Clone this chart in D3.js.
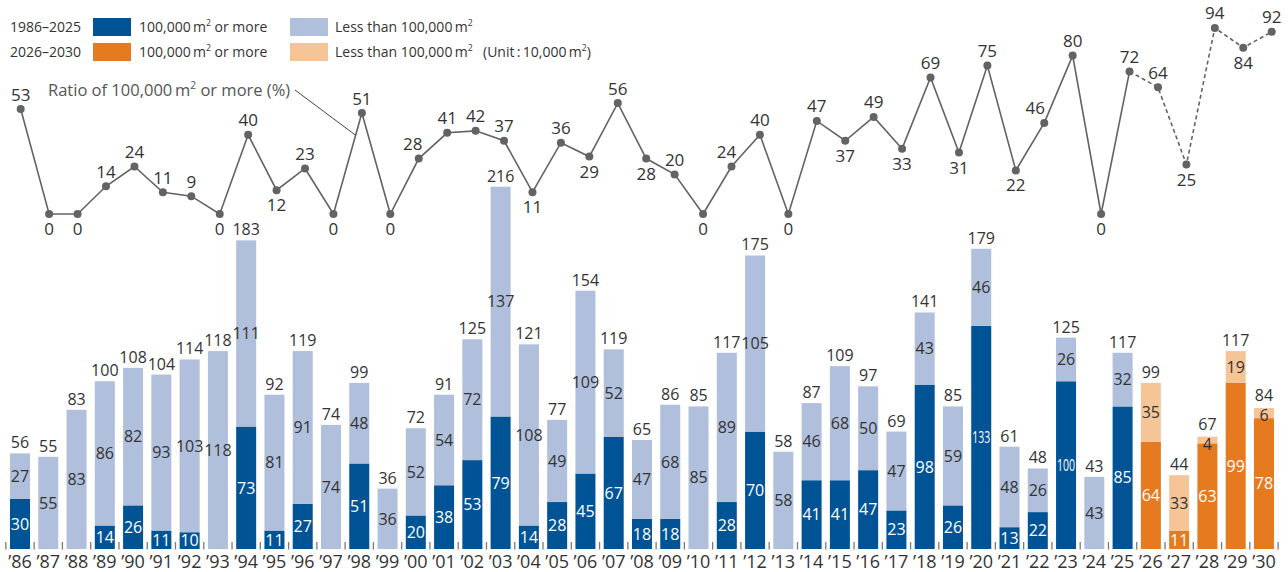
<!DOCTYPE html>
<html>
<head>
<meta charset="utf-8">
<script src="https://cdn.jsdelivr.net/npm/d3@7"></script>
<style>
  body { margin: 0; background: #fff; }
  svg { display: block; }
  text { font-family: "Open Sans", "Noto Sans", sans-serif; }
</style>
</head>
<body>
<svg id="chart" width="1288" height="572"></svg>
<script>
// Office floor space supplied per year (unit: 10,000 m²)
const yearLabels = ["'86","'87","'88","'89","'90","'91","'92","'93","'94","'95",
  "'96","'97","'98","'99","'00","'01","'02","'03","'04","'05",
  "'06","'07","'08","'09","'10","'11","'12","'13","'14","'15",
  "'16","'17","'18","'19","'20","'21","'22","'23","'24","'25",
  "'26","'27","'28","'29","'30"];

// Buildings of 100,000 m² or more
const largeArea = [30,0,0,14,26,11,10,0,73,11,
  27,0,51,0,20,38,53,79,14,28,
  45,67,18,18,0,28,70,0,41,41,
  47,23,98,26,133,13,22,100,0,85,
  64,11,63,99,78];

// Buildings of less than 100,000 m²
const smallArea = [27,55,83,86,82,93,103,118,111,81,
  91,74,48,36,52,54,72,137,108,49,
  109,52,47,68,85,89,105,58,46,68,
  50,47,43,59,46,48,26,26,43,32,
  35,33,4,19,6];

// Yearly totals
const totalArea = [56,55,83,100,108,104,114,118,183,92,
  119,74,99,36,72,91,125,216,121,77,
  154,119,65,86,85,117,175,58,87,109,
  97,69,141,85,179,61,48,125,43,117,
  99,44,67,117,84];

// Share of 100,000 m² or more (%)
const largeRatio = [53,0,0,14,24,11,9,0,40,12,
  23,0,51,0,28,41,42,37,11,36,
  29,56,28,20,0,24,40,0,47,37,
  49,33,69,31,75,22,46,80,0,72,
  64,25,94,84,92];

// First forecast year ('26)
const forecastStart = "'26";

const colors = {
  largeActual: "#005496",
  smallActual: "#b0bfdb",
  largeForecast: "#e67a1f",
  smallForecast: "#f6c597",
  line: "#636363",
  text: "#333333"
};

const svg = d3.select("#chart");
const forecastIdx = yearLabels.indexOf(forecastStart);

const rows = yearLabels.map((y, i) => ({
  year: y, i,
  large: largeArea[i], small: smallArea[i], total: totalArea[i],
  ratio: largeRatio[i], forecast: i >= forecastIdx
}));

// ---- scales ----
const x = d3.scaleBand().domain(yearLabels).range([5.86, 1278.1])
  .paddingInner(0.2925).paddingOuter(0.14625);
const xLine = d3.scalePoint().domain(yearLabels).range([20.7, 1271.7]);
const y = d3.scaleLinear().domain([0, 216]).range([549, 186.7]);
const yR = d3.scaleLinear().domain([0, 100]).range([214, 16]);
const bw = x.bandwidth();
const gap = x.step() - bw;

// ---- stacked bars ----
const gBars = svg.append("g");
gBars.selectAll("rect.large").data(rows).join("rect")
  .attr("x", d => x(d.year)).attr("width", bw)
  .attr("y", d => y(d.large)).attr("height", d => y(0) - y(d.large))
  .attr("fill", d => d.forecast ? colors.largeForecast : colors.largeActual);
gBars.selectAll("rect.small").data(rows).join("rect")
  .attr("x", d => x(d.year)).attr("width", bw)
  .attr("y", d => y(d.large + d.small)).attr("height", d => y(d.large) - y(d.large + d.small))
  .attr("fill", d => d.forecast ? colors.smallForecast : colors.smallActual);

// segment and total labels
const gLab = svg.append("g").attr("text-anchor", "middle").attr("font-size", 16);
rows.forEach(d => {
  const cx = x(d.year) + bw / 2;
  const top = y(d.large + d.small);
  const hSmall = y(d.large) - top;
  const thin = d.small > 0 && hSmall < 14;
  if (d.large > 0) {
    const t = gLab.append("text")
      .attr("x", cx).attr("y", y(d.large / 2))
      .attr("dy", "0.36em").attr("fill", "#fff").text(d.large);
    if (String(d.large).length > 2) t.attr("textLength", 18).attr("lengthAdjust", "spacingAndGlyphs");
  }
  if (d.small > 0) {
    const cy = thin ? top + 7.5 : y(d.large + d.small / 2);
    gLab.append("text")
      .attr("x", cx).attr("y", cy)
      .attr("dy", "0.36em").attr("fill", colors.text).text(d.small);
  }
  gLab.append("text")
    .attr("x", cx).attr("y", top - (thin ? 7 : 5))
    .attr("fill", colors.text).text(d.total);
});

// ---- category ticks and labels ----
const gAxis = svg.append("g");
const tickXs = yearLabels.map(d => x(d) - gap / 2).concat([x(yearLabels[yearLabels.length - 1]) + bw + gap / 2]);
gAxis.selectAll("line").data(tickXs).join("line")
  .attr("x1", d => d).attr("x2", d => d)
  .attr("y1", 542).attr("y2", 549.5)
  .attr("stroke", "#7a7a7a").attr("stroke-width", 1.3);
gAxis.selectAll("text").data(yearLabels).join("text")
  .attr("x", d => x(d) + bw / 2).attr("y", 568)
  .attr("text-anchor", "middle").attr("font-size", 18).attr("fill", colors.text)
  .text(d => d.replace("'", "\u2019"));

// ---- ratio line ----
const gLine = svg.append("g");
const line = d3.line().x(d => xLine(d.year)).y(d => yR(d.ratio));
gLine.append("path").datum(rows.slice(0, forecastIdx))
  .attr("d", line).attr("fill", "none")
  .attr("stroke", colors.line).attr("stroke-width", 1.6);
gLine.append("path").datum(rows.slice(forecastIdx - 1))
  .attr("d", line).attr("fill", "none")
  .attr("stroke", colors.line).attr("stroke-width", 1.6)
  .attr("stroke-dasharray", "4,3");
gLine.selectAll("circle").data(rows).join("circle")
  .attr("cx", d => xLine(d.year)).attr("cy", d => yR(d.ratio))
  .attr("r", 4).attr("fill", colors.line);

// point labels: below at local minima, above otherwise
const labelBelowExtra = new Set(["'08"]);
const labelShift = { "'00": -6, "'11": -5, "'22": -9 };
gLine.selectAll("text").data(rows).join("text")
  .attr("x", d => xLine(d.year) + (labelShift[d.year] || 0))
  .attr("y", d => {
    const prev = d.i > 0 ? largeRatio[d.i - 1] : Infinity;
    const next = d.i < largeRatio.length - 1 ? largeRatio[d.i + 1] : Infinity;
    const below = (d.ratio <= prev && d.ratio <= next) || labelBelowExtra.has(d.year);
    return below ? yR(d.ratio) + 21 : yR(d.ratio) - 8.5;
  })
  .attr("text-anchor", "middle").attr("font-size", 17).attr("fill", colors.text)
  .text(d => d.ratio);

// ---- rich text helper (superscript "2" in m²) ----
function richText(sel, parts, size) {
  const shift = size * 0.42;
  let raised = false;
  parts.forEach(p => {
    const ts = sel.append("tspan").text(p.t);
    if (p.sup) {
      ts.attr("font-size", size * 0.62).attr("dy", -shift);
      raised = true;
    } else if (raised) {
      ts.attr("dy", shift);
      raised = false;
    }
  });
}
const m2 = (pre, post) => [{ t: pre + "\u2009m" }, { t: "2", sup: true }].concat(post ? [{ t: post }] : []);

// ---- annotation for the line ----
const annot = svg.append("text").attr("x", 48).attr("y", 96)
  .attr("font-size", 16.5).attr("fill", "#555");
richText(annot, m2("Ratio of 100,000", " or more (%)"), 16.5);
const i97 = yearLabels.indexOf("'97"), i98 = yearLabels.indexOf("'98");
const tAt = 0.78;
const leadX = xLine(yearLabels[i97]) + tAt * (xLine(yearLabels[i98]) - xLine(yearLabels[i97]));
const leadY = yR(largeRatio[i97]) + tAt * (yR(largeRatio[i98]) - yR(largeRatio[i97]));
svg.append("line").attr("x1", 295).attr("y1", 90).attr("x2", leadX).attr("y2", leadY)
  .attr("stroke", "#444").attr("stroke-width", 1);

// ---- legend ----
const legend = svg.append("g").attr("font-size", 14).attr("fill", colors.text);
const legendRows = [
  { label: "1986\u20132025", big: colors.largeActual, sm: colors.smallActual, cy: 27 },
  { label: "2026\u20132030", big: colors.largeForecast, sm: colors.smallForecast, cy: 52 }
];
legendRows.forEach((r, k) => {
  const g = legend.append("g");
  g.append("text").attr("x", 10).attr("y", r.cy).attr("dy", "0.35em").text(r.label);
  g.append("rect").attr("x", 93).attr("y", r.cy - 9).attr("width", 38).attr("height", 18).attr("fill", r.big);
  richText(g.append("text").attr("x", 139).attr("y", r.cy).attr("dy", "0.35em"), m2("100,000", " or more"), 14);
  g.append("rect").attr("x", 290).attr("y", r.cy - 9).attr("width", 38).attr("height", 18).attr("fill", r.sm);
  richText(g.append("text").attr("x", 335).attr("y", r.cy).attr("dy", "0.35em"), m2("Less than 100,000"), 14);
  if (k === 1) {
    richText(g.append("text").attr("x", 483).attr("y", r.cy).attr("dy", "0.35em"),
      [{ t: "(Unit\u2009:\u200910,000\u2009m" }, { t: "2", sup: true }, { t: ")" }], 14);
  }
});
</script>
</body>
</html>
